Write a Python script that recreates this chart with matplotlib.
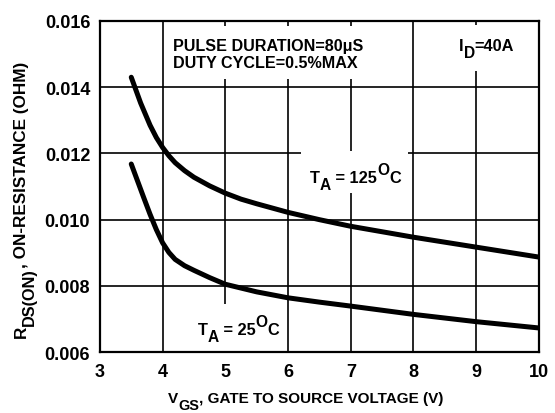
import matplotlib
matplotlib.use("Agg")
import matplotlib.pyplot as plt
from matplotlib.patches import Rectangle

plt.rcParams['font.family'] = ['Liberation Sans', 'DejaVu Sans']
plt.rcParams['font.weight'] = 'bold'

# Data
vgs_125 = [3.5, 3.65, 3.8, 3.9, 4.0, 4.1, 4.2, 4.35, 4.5, 4.75, 5.0, 5.25, 5.5, 6.0, 6.5, 7.0, 8.0, 9.0, 10.0]
rds_125 = [0.0143, 0.01352, 0.01285, 0.01248, 0.01218, 0.01193, 0.01172, 0.01148, 0.01128, 0.01102,
           0.0108, 0.01062, 0.01048, 0.01022, 0.0100, 0.0098, 0.00947, 0.00917, 0.00887]
vgs_25 = [3.5, 3.6, 3.7, 3.8, 3.9, 4.0, 4.1, 4.2, 4.35, 4.5, 4.75, 5.0, 5.5, 6.0, 6.5, 7.0, 8.0, 9.0, 10.0]
rds_25 = [0.01168, 0.01117, 0.01066, 0.01016, 0.0097, 0.0093, 0.00901, 0.0088, 0.00861, 0.00847,
          0.00825, 0.00805, 0.00782, 0.00764, 0.00751, 0.00739, 0.00714, 0.00692, 0.00673]
x_ticks = [3, 4, 5, 6, 7, 8, 9, 10]
y_ticks = [0.006, 0.008, 0.010, 0.012, 0.014, 0.016]
y_ticklabels = ['0.006', '0.008', '0.010', '0.012', '0.014', '0.016']

fig = plt.figure(figsize=(5.55, 4.14), dpi=100)
ax = fig.add_axes([0.180, 0.147, 0.791, 0.800])
ax.set_xlim(3, 10)
ax.set_ylim(0.006, 0.016)
ax.set_xticks(x_ticks)
ax.set_yticks(y_ticks)
ax.set_yticklabels(y_ticklabels)
ax.tick_params(length=0, labelsize=13)
ax.tick_params(axis='y', pad=7)
ax.tick_params(axis='x', pad=8)
for lbl in ax.get_xticklabels() + ax.get_yticklabels():
    lbl.set_fontweight('bold')
ax.grid(True, color='black', linewidth=1.2, zorder=1)
ax.set_axisbelow(True)
for s in ax.spines.values():
    s.set_linewidth(1.6)
    s.set_zorder(5)

# white label boxes covering grid
boxes = [(4.1, 0.01425, 3.5, 0.00160), (8.55, 0.01449, 1.3, 0.00140),
         (6.2, 0.0108, 1.72, 0.00127), (4.4, 0.006, 1.55, 0.00145)]
for (bx, by, bw, bh) in boxes:
    ax.add_patch(Rectangle((bx, by), bw, bh, facecolor='white', edgecolor='none', zorder=2))

ax.plot(vgs_125, rds_125, color='black', linewidth=3.6, solid_capstyle='round',
        solid_joinstyle='round', zorder=4)
ax.plot(vgs_25, rds_25, color='black', linewidth=3.6, solid_capstyle='round',
        solid_joinstyle='round', zorder=4)


def rich_text(x, y, parts, size, coords, rotation=0, sub_drop=5.0, sup_rise=6.0, scale=0.95):
    """Draw text pieces in a row; kind 'n' normal, 'b' subscript, 'p' superscript."""
    prev = None
    for s, kind in parts:
        fs = size if kind == 'n' else size * scale
        off = 0.0
        if kind == 'b':
            off = -sub_drop
        elif kind == 'p':
            off = sup_rise
        if rotation == 0:
            if prev is None:
                xy, xyc = (x, y), coords
            else:
                xy, xyc = (1, y), (prev, coords)
            a = ax.annotate(s, xy=xy, xycoords=xyc, xytext=(0, off), textcoords='offset points',
                            fontsize=fs, fontweight='bold', ha='left', va='baseline',
                            annotation_clip=False, zorder=6)
        else:
            if prev is None:
                xy, xyc = (x, y), coords
            else:
                xy, xyc = (x, 1), (coords, prev)
            a = ax.annotate(s, xy=xy, xycoords=xyc, xytext=(-off, 0), textcoords='offset points',
                            fontsize=fs, fontweight='bold', ha='left', va='baseline',
                            rotation=90, rotation_mode='anchor', annotation_clip=False, zorder=6)
        prev = a


rich_text(4.16, 0.015133, [('PULSE DURATION=80\u03bcS', 'n')], 11.6, 'data')
rich_text(4.16, 0.014601, [('DUTY CYCLE=0.5%MAX', 'n')], 11.6, 'data')
rich_text(8.726, 0.01512, [('I', 'n'), ('D', 'b'), ('=40A', 'n')], 11.8, 'data')
rich_text(6.349, 0.011127, [('T', 'n'), ('A', 'b'), (' = 125', 'n'), ('O', 'p'), ('C', 'n')], 11.8, 'data')
rich_text(4.563, 0.006544, [('T', 'n'), ('A', 'b'), (' = 25', 'n'), ('O', 'p'), ('C', 'n')], 11.8, 'data')

rich_text(168 / 555, 1 - 403.3 / 414, [('V', 'n'), ('GS', 'b'), (', GATE TO SOURCE VOLTAGE (V)', 'n')],
          11, 'figure fraction')
rich_text(26 / 555, 1 - 338 / 414, [('R', 'n'), ('DS(ON)', 'b'), (', ON-RESISTANCE (OHM)', 'n')],
          12.3, 'figure fraction', rotation=90, sub_drop=5.5)

fig.savefig('out.png', dpi=100)
